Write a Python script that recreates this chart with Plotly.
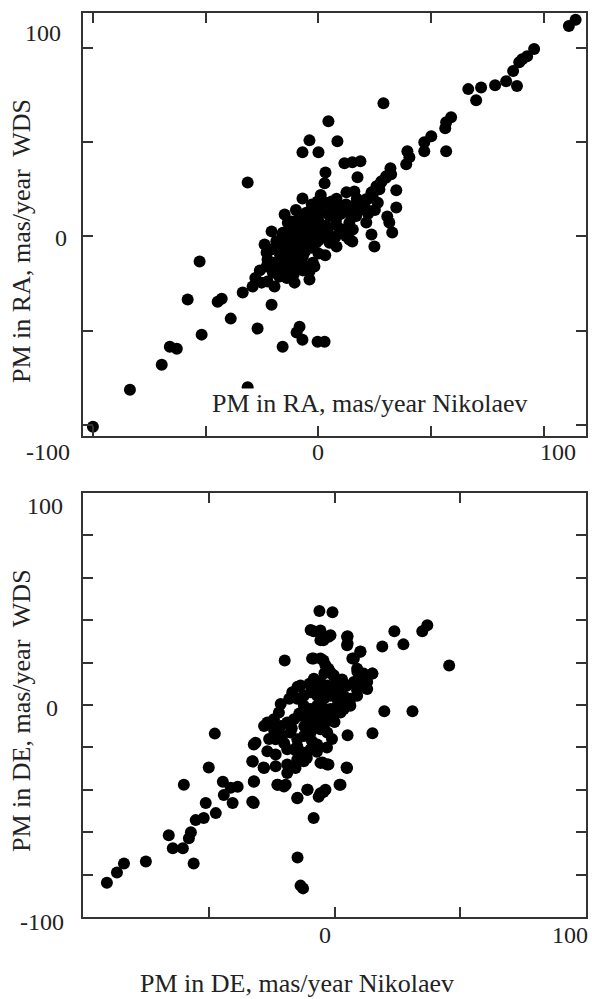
"""
Two-panel scatter: proper motions, Nikolaev vs WDS (RA on top, DE below).
"""
import plotly.graph_objects as go

W, H = 592, 999
FONT = "Liberation Serif"
INK = "#222222"
AXIS = "#333333"

# ── PM in RA (mas/year): Nikolaev (x) vs WDS (y) ─────────────────────────────
ra_nik = [
    -100, -83.6, -69.5, -65.9, -62.8, -58.0, -52.7, -51.8, -44.7, -42.9,
    -38.9, -31.4, -31.4, -33.6, -29.2, -27.0, -25.2, -22.6, -19.5, -20.8,
    -15.9, -10.6, -4.0, -1.8, -8.4, -9.7, -7.1, -0.4, 2.7, -19.5,
    -17.3, -23.9, -23.0, -22.6, -20.8, -15.0, -7.1, -0.4, 5.8, 12.4,
    15.9, 3.1, 2.7, 11.5, 15.0, 18.6, 17.3, -7.1, 0.0, -4.0,
    8.4, 4.4, 28.8, 19.5, 21.7, 23.5, 25.7, 27.9, 30.0, 31.9,
    34.5, 34.5, 30.5, 31.4, 32.7, 21.2, 23.5, 24.8, 13.7, 15.0,
    8.0, 38.9, 40.3, 39.4, 46.9, 46.9, 50.0, 56.6, 56.2, 56.6,
    58.8, 66.4, 69.9, 72.1, 78.3, 83.2, 88.0, 86.3, 89.0, 90.3,
    92.5, 95.6, 111.0, 114.0,
    # central cluster
    9.3, 12.2, 15.2, 18.1, 21.1, 24.0, 27.0, 27.7, 29.9, 32.2,
    26.3, 21.1, 16.7, 13.7, 10.8, 7.8, 4.9, 12.2, 15.2, -8.4,
    -5.4, -2.5, 0.4, 3.4, 6.3, -9.9, -6.9, -4.0, -1.0, 1.9,
    4.9, 7.8, -11.4, -8.4, -5.4, -2.5, 0.4, 3.4, -14.3, -11.4,
    -8.4, -5.4, -2.5, 0.4, 3.4, -15.8, -12.8, -9.9, -6.9, -4.0,
    -1.0, -18.7, -15.8, -12.8, -9.9, -6.9, -20.2, -17.2, -14.3, -4.0,
    -2.5, -5.4, -8.4, -20.9, -18.7, -13.6, -15.8,
    -12.0, -10.0, -14.0, -17.0, -20.0, -16.0, -12.0, -8.0, -6.0, -3.0,
    0.0, 2.0, 4.0, -2.0, -6.0, -10.0, -13.0, -16.0, -18.0, -7.0,
    -11.0, -14.0, 0.0, 3.0, 6.0, 8.0, 10.0, 14.0, 18.0, 22.0,
    25.0, 17.0, 8.0, 1.0, -3.0, -10.0, -12.0, -26.0, -28.0, -23.0,
    -5.0, -8.0,
]
ra_wds = [
    -101.0, -81.4, -68.1, -58.5, -59.6, -33.5, -13.3, -52.1, -34.6, -33.0,
    -43.6, 28.7, -80.0, -29.8, -26.6, -48.9, -24.5, -23.9, -26.6, -36.2,
    -58.5, -24.5, -22.9, -16.0, -47.9, -51.0, -54.8, -55.9, -55.9, -17.6,
    -21.3, -4.3, -8.5, -12.2, 2.7, 11.7, 20.2, 18.6, 18.6, 23.4,
    23.9, 34.0, 28.2, 38.8, 39.4, 39.9, 31.4, 44.7, 44.7, 51.0,
    50.5, 61.2, 70.7, 14.4, 19.7, 23.4, 26.6, 29.3, 31.9, 36.2,
    24.5, 15.4, 10.6, 7.4, 2.1, 7.4, 1.1, -5.3, -1.6, -2.7,
    -5.3, 38.3, 42.0, 45.2, 45.2, 50.0, 53.2, 45.2, 57.4, 60.6,
    63.3, 78.2, 72.3, 79.1, 80.3, 82.4, 79.8, 87.8, 92.5, 94.0,
    95.7, 99.5, 111.7, 115.0,
    # central cluster
    16.1, 17.0, 16.1, 17.0, 19.7, 21.5, 25.0, 28.6, 31.2, 33.0,
    17.9, 14.4, 10.8, 7.3, 3.7, 0.2, -3.4, 0.2, 3.7, 10.8,
    12.6, 14.4, 16.1, 17.9, 14.4, 5.5, 7.3, 9.1, 10.8, 12.6,
    10.8, 9.1, 0.2, 2.0, 3.7, 5.5, 7.3, 5.5, -3.4, -5.1,
    -3.4, -1.6, 0.2, 2.0, 0.2, -8.7, -10.5, -8.7, -6.9, -5.1,
    -3.4, -14.0, -15.8, -14.0, -12.2, -10.5, -19.3, -21.1, -18.4, -18.4,
    -14.0, -15.8, -16.7, -6.9, -2.5, 7.3, 2.0,
    -2.0, -6.0, -8.0, -10.0, -14.0, -14.0, -16.0, -12.0, -8.0, -6.0,
    -2.0, 2.0, 4.0, 6.0, 4.0, 2.0, 4.0, 0.0, -4.0, -18.0,
    -20.0, -22.0, -9.0, -10.0, 0.0, 6.0, 12.0, 12.0, 14.0, 12.0,
    14.0, 20.0, 20.0, 22.0, 17.0, 14.0, 8.0, -18.0, -22.0, -16.0,
    2.0, 7.0,
]

# ── PM in DE (mas/year): Nikolaev (x) vs WDS (y) ─────────────────────────────
de_nik = [
    -90.5, -86.5, -83.7, -75.0, -56.0, -65.9, -64.3, -60.3, -57.9, -57.1,
    -55.2, -52.0, -51.2, -47.2, -50.0, -59.9, -44.4, -41.3, -38.5, -40.5,
    -44.0, -32.1, -32.1, -32.5, -32.1, -28.2, -22.6, -19.4, -14.7, -14.7,
    -13.5, -12.5, -47.6, -8.3, -10.7, -6.3, -4.4, 2.0, -4.8, -2.4,
    4.8, 5.2, 15.1, 19.8, 31.0, 45.6, -19.8, -6.0, -0.8, -8.3,
    -5.6, -4.4, -1.6, 5.2, 5.2, 10.3, 7.1, 19.0, 23.8, 27.4,
    34.9, 36.9, -8.3, -4.4, -2.4, -0.4, 9.1, 11.5, 15.1, -8.3,
    -14.7,
    # central cluster
    -8.9, -5.6, -3.6, -1.6, -0.3, 5.0, 5.0, 7.7, 10.3, 9.0,
    11.6, 15.0, -9.5, -5.6, -2.3, -5.6, -8.2, -5.6, -2.9, -0.3,
    2.4, 5.0, 7.7, 10.3, 13.0, 13.0, -13.5, -16.8, -21.4, -22.1,
    -14.8, -12.2, -9.5, -6.9, -4.2, -1.6, 1.1, 3.7, 6.3, 9.0,
    -12.2, -9.5, -6.9, -4.2, -1.6, 1.1, 3.7, 6.3, -26.7, -24.1,
    -21.4, -18.8, -16.1, -13.5, -10.8, -8.2, -5.6, -2.9, -0.3, 2.4,
    -28.0, -31.4, -23.4, -20.8, -17.5, -14.8, -12.2, -9.5, -5.6, -2.9,
    -26.7, -23.4, -18.8, -14.8, -12.2, -9.5, -6.9, -32.7, -28.0, -23.4,
    -18.8, -14.8, -12.2, -22.7, -20.1, -18.8, -15.5, -32.0, -5.6, -2.9,
    5.0, 2.4, -10.8, -5.6, -3.6, -14.8, -32.7,
    -12.0, -8.0, -4.0, 0.0, -10.0, -6.0, -2.0, 2.0, 6.0, -3.0,
    1.0, -7.0, -10.0, -14.0, -17.0, -20.0, -16.0, -9.0, -7.0, -3.0,
    -1.0, -24.0, -26.0, -18.0, 9.0, 12.0, 3.0, -4.0, -11.0,
]
de_wds = [
    -83.8, -79.0, -74.8, -73.8, -74.8, -61.4, -67.6, -67.6, -62.9, -60.0,
    -54.3, -53.3, -46.2, -51.0, -29.5, -37.6, -36.2, -39.0, -38.6, -46.2,
    -42.4, -46.2, -36.2, -26.7, -18.6, -29.5, -37.6, -37.6, -43.8, -71.9,
    -85.2, -86.5, -13.5, -53.3, -40.0, -43.3, -41.0, -37.6, -27.1, -28.1,
    -29.5, -14.3, -13.3, -2.9, -2.9, 18.6, 21.0, 44.3, 43.8, 34.8,
    35.2, 30.5, 32.9, 32.4, 29.0, 25.2, 21.9, 27.6, 34.8, 28.6,
    34.8, 37.6, 21.9, 21.0, 17.1, 13.8, 15.7, 12.4, 14.8, 11.4,
    8.6,
    # central cluster
    21.9, 21.9, 18.7, 15.5, 14.0, 32.2, 28.2, 21.9, 25.1, 17.1,
    14.8, 14.8, 35.4, 33.8, 32.2, 30.6, 12.4, 10.8, 9.2, 9.2,
    7.6, 9.2, 10.8, 9.2, 10.8, 7.6, 9.2, 6.0, 0.5, -3.5,
    2.9, 4.4, 6.0, 4.4, 2.9, 4.4, 2.9, 4.4, 2.9, 4.4,
    -0.3, -1.9, -0.3, -1.9, -1.9, -0.3, -1.9, -0.3, -8.3, -6.7,
    -9.9, -8.3, -6.7, -5.1, -6.7, -5.1, -6.7, -6.7, -5.1, -3.5,
    -9.9, -17.8, -16.2, -14.6, -13.0, -16.2, -14.6, -13.0, -11.4, -13.0,
    -21.8, -23.3, -20.9, -19.4, -22.5, -20.9, -18.6, -26.5, -29.7, -28.9,
    -28.1, -25.7, -26.5, -37.6, -38.4, -32.1, -29.7, -36.0, -27.3, -28.1,
    -29.7, -37.6, -40.0, -41.6, -40.0, -44.0, -45.6,
    -10.0, -10.0, -9.0, -8.0, -3.0, -4.0, -3.0, 0.0, 1.0, 6.0,
    7.0, 8.0, 10.0, -4.0, -11.0, -18.0, -21.0, -17.0, -22.0, -20.0,
    -16.0, -12.0, -16.0, 3.0, 7.0, 12.0, 12.0, 15.0, -25.0,
]

# ── tick values ──────────────────────────────────────────────────────────────
ra_ticks = [-100, -50, 0, 50, 100]
de_x_ticks = [-50, 0, 50]
de_y_ticks = [-80, -60, -40, -20, 0, 20, 40, 60, 80]


def px(x, y):
    """Pixel position in the 592x999 page -> paper coordinates."""
    return x / W, 1 - y / H


def label(text, x, y, size=24, angle=0, **kw):
    xp, yp = px(x, y)
    return dict(
        text=text, x=xp, y=yp, xref="paper", yref="paper",
        showarrow=False, textangle=angle,
        xanchor="center", yanchor="middle",
        font=dict(family=FONT, size=size, color=INK),
        **kw,
    )


def axis(rng, ticks, domain):
    return dict(
        range=rng, domain=domain, tickvals=ticks,
        showticklabels=False, showgrid=False, zeroline=False,
        showline=True, linecolor=AXIS, linewidth=2, mirror="ticks",
        ticks="inside", ticklen=10, tickwidth=1.5, tickcolor=AXIS,
    )


marker = dict(size=12, color="#000000", line=dict(width=0))

fig = go.Figure()
fig.add_trace(go.Scatter(x=ra_nik, y=ra_wds, mode="markers", marker=marker,
                         xaxis="x", yaxis="y", cliponaxis=True))
fig.add_trace(go.Scatter(x=de_nik, y=de_wds, mode="markers", marker=marker,
                         xaxis="x2", yaxis="y2", cliponaxis=True))

x_dom = [83 / W, 586 / W]
fig.update_layout(
    width=W, height=H,
    margin=dict(l=0, r=0, t=0, b=0),
    paper_bgcolor="white", plot_bgcolor="white",
    showlegend=False,
    xaxis=axis([-104.4, 118.6], ra_ticks, x_dom) | dict(anchor="y"),
    yaxis=axis([-105.9, 118.6], ra_ticks, [1 - 436 / H, 1 - 13 / H]) | dict(anchor="x"),
    xaxis2=axis([-100, 100], de_x_ticks, x_dom) | dict(anchor="y2"),
    yaxis2=axis([-100, 100], de_y_ticks, [1 - 917 / H, 1 - 493 / H]) | dict(anchor="x2"),
    annotations=[
        # top panel tick labels
        label("100", 43, 33),
        label("0", 61, 238),
        label("-100", 48, 452),
        label("0", 318, 452),
        label("100", 558, 452),
        # bottom panel tick labels
        label("100", 45, 506),
        label("0", 52, 708),
        label("-100", 42, 922),
        label("0", 325, 935),
        label("100", 570, 935),
        # titles
        label("PM in RA, mas/year\u00a0 WDS", 21, 241, size=26, angle=-90),
        label("PM in RA, mas/year Nikolaev", 370, 403, size=26,
              bgcolor="white", borderpad=0),
        label("PM in DE, mas/year\u00a0 WDS", 21, 711, size=26, angle=-90),
        label("PM in DE, mas/year Nikolaev", 297, 983, size=26),
    ],
)

# the page's default 8px body margin would shift the whole figure
fig.write_html(
    "out.html",
    config={"displayModeBar": False},
    post_script="document.body.style.margin='0';",
)
